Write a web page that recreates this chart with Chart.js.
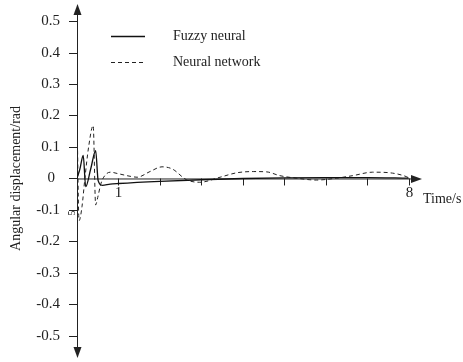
<!DOCTYPE html>
<html>
<head>
<meta charset="utf-8">
<script src="https://cdn.jsdelivr.net/npm/chart.js@4/dist/chart.umd.min.js"></script>
<style>
  html, body { margin: 0; padding: 0; background: #fff; }
  #wrap { width: 463px; height: 362px; position: relative; }
</style>
</head>
<body>
<div id="wrap"><canvas id="myChart"></canvas></div>
<script>
// time (s) and angular displacement (rad)
const fuzzyTime = [0, 0.07, 0.15, 0.21, 0.33, 0.45, 0.51, 0.61, 0.8, 1, 2, 3, 4, 5, 6, 7, 8];
const fuzzyAngle = [0, 0.03, 0.073, -0.026, 0.03, 0.088, -0.007, -0.022, -0.018, -0.016, -0.009, -0.004, 0, 0.002, 0.003, 0.003, 0.001];

const neuralTime = [0, 0.05, 0.12, 0.19, 0.28, 0.39, 0.45, 0.5, 0.58, 0.67, 0.8, 1.0, 1.28, 1.45, 1.76, 2.05, 2.3, 2.64, 2.96, 3.45, 3.85, 4.25, 4.57, 4.89, 5.29, 5.77, 6.26, 6.65, 7.13, 7.61, 7.94, 8.0];
const neuralAngle = [0.2, -0.134, -0.09, 0, 0.1, 0.168, -0.084, -0.06, -0.015, 0.009, 0.02, 0.015, 0.007, 0.004, 0.022, 0.037, 0.03, -0.004, -0.012, 0.004, 0.018, 0.022, 0.021, 0.009, 0.001, -0.005, 0.001, 0.009, 0.02, 0.017, 0.006, 0.002];

const yTickValues = [0.5, 0.4, 0.3, 0.2, 0.1, 0, -0.1, -0.2, -0.3, -0.4, -0.5];
const yTickLabels = ["0.5", "0.4", "0.3", "0.2", "0.1", "0", "-0.1", "-0.2", "-0.3", "-0.4", "-0.5"];
const xTickValues = [1, 2, 3, 4, 5, 6, 7, 8];
const xTickLabels = { 1: "1", 8: "8" };

const seriesNames = ["Fuzzy neural", "Neural network"];

function toPoints(xs, ys) {
  return xs.map((x, i) => ({ x: x, y: ys[i] }));
}

const serif = "'Liberation Serif', 'DejaVu Serif', serif";

// axes, arrows, ticks, labels and legend drawn with the chart's own scales
const axesPlugin = {
  id: "axesPlugin",
  beforeDatasetsDraw(chart) {
    const ctx = chart.ctx;
    const xs = chart.scales.x;
    const ys = chart.scales.y;
    const x0 = xs.getPixelForValue(0);
    const y0 = ys.getPixelForValue(0);
    const area = chart.chartArea;

    ctx.save();
    ctx.strokeStyle = "#222";
    ctx.fillStyle = "#222";
    ctx.lineWidth = 1;

    // y axis
    ctx.beginPath();
    ctx.moveTo(x0 + 0.5, area.top + 8);
    ctx.lineTo(x0 + 0.5, area.bottom - 8);
    ctx.stroke();
    // x axis
    ctx.beginPath();
    ctx.moveTo(x0, y0 + 0.5);
    ctx.lineTo(area.right - 8, y0 + 0.5);
    ctx.stroke();

    // arrows
    ctx.beginPath();
    ctx.moveTo(x0 + 0.5, area.top);
    ctx.lineTo(x0 - 3.5, area.top + 11);
    ctx.lineTo(x0 + 4.5, area.top + 11);
    ctx.closePath();
    ctx.fill();
    ctx.beginPath();
    ctx.moveTo(x0 + 0.5, area.bottom);
    ctx.lineTo(x0 - 3.5, area.bottom - 11);
    ctx.lineTo(x0 + 4.5, area.bottom - 11);
    ctx.closePath();
    ctx.fill();
    ctx.beginPath();
    ctx.moveTo(area.right, y0 + 0.5);
    ctx.lineTo(area.right - 11, y0 - 3.5);
    ctx.lineTo(area.right - 11, y0 + 4.5);
    ctx.closePath();
    ctx.fill();

    // y ticks
    ctx.font = "15px " + serif;
    ctx.textBaseline = "middle";
    ctx.textAlign = "right";
    yTickValues.forEach((v, i) => {
      const py = Math.round(ys.getPixelForValue(v)) + 0.5;
      ctx.beginPath();
      ctx.moveTo(x0 - 8, py);
      ctx.lineTo(x0, py);
      ctx.stroke();
      const off = v === 0 ? 22 : 17;
      ctx.fillText(yTickLabels[i], x0 - off, py);
    });

    // x ticks
    ctx.textAlign = "center";
    ctx.textBaseline = "top";
    xTickValues.forEach(v => {
      const px = Math.round(xs.getPixelForValue(v)) + 0.5;
      ctx.beginPath();
      ctx.moveTo(px, y0);
      ctx.lineTo(px, y0 + 7);
      ctx.stroke();
      if (xTickLabels[v]) ctx.fillText(xTickLabels[v], px, y0 + 7);
    });

    // stray rotated glyph near the y axis
    ctx.save();
    ctx.translate(x0 - 5, ys.getPixelForValue(-0.11));
    ctx.rotate(-Math.PI / 2);
    ctx.font = "10px " + serif;
    ctx.textAlign = "center";
    ctx.textBaseline = "middle";
    ctx.fillText("5", 0, 0);
    ctx.restore();

    // axis titles
    ctx.font = "14px " + serif;
    ctx.textAlign = "left";
    ctx.textBaseline = "middle";
    ctx.fillText("Time/s", area.right + 1, y0 + 21);

    ctx.save();
    ctx.translate(16, y0);
    ctx.rotate(-Math.PI / 2);
    ctx.textAlign = "center";
    ctx.fillText("Angular displacement/rad", 0, 0);
    ctx.restore();

    ctx.restore();
  },
  afterDraw(chart) {
    const ctx = chart.ctx;
    ctx.save();
    ctx.font = "14px " + serif;
    ctx.textBaseline = "middle";
    ctx.textAlign = "left";
    chart.data.datasets.forEach((ds, i) => {
      const y = 36 + i * 26;
      ctx.strokeStyle = ds.borderColor;
      ctx.lineWidth = ds.borderWidth;
      ctx.setLineDash(ds.borderDash || []);
      ctx.beginPath();
      ctx.moveTo(111, y + 0.5);
      ctx.lineTo(145, y + 0.5);
      ctx.stroke();
      ctx.setLineDash([]);
      ctx.fillStyle = "#222";
      ctx.fillText(ds.label, 173, y);
    });
    ctx.restore();
  }
};

const ctx = document.getElementById("myChart").getContext("2d");
const myChart = new Chart(ctx, {
  type: "line",
  data: {
    datasets: [
      {
        label: seriesNames[0],
        data: toPoints(fuzzyTime, fuzzyAngle),
        borderColor: "#111",
        borderWidth: 1.3,
        pointRadius: 0,
        cubicInterpolationMode: "monotone",
        fill: false
      },
      {
        label: seriesNames[1],
        data: toPoints(neuralTime, neuralAngle),
        borderColor: "#222",
        borderWidth: 1,
        borderDash: [4, 3],
        pointRadius: 0,
        cubicInterpolationMode: "monotone",
        fill: false
      }
    ]
  },
  options: {
    responsive: true,
    maintainAspectRatio: false,
    animation: false,
    layout: { padding: { left: 77, right: 41, top: 4, bottom: 4 } },
    plugins: {
      legend: { display: false },
      tooltip: { enabled: false }
    },
    scales: {
      x: { type: "linear", min: 0, max: 8.32, display: false },
      y: { type: "linear", min: -0.57, max: 0.554, display: false }
    }
  },
  plugins: [axesPlugin]
});
</script>
</body>
</html>
